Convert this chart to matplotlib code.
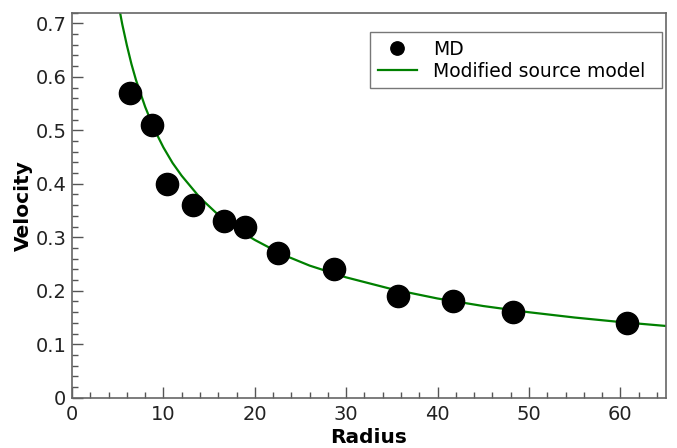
import numpy as np
import matplotlib
matplotlib.use("Agg")
import matplotlib.pyplot as plt
from matplotlib.ticker import MultipleLocator, FuncFormatter

# MD measurements
radius_md = [6.3, 8.7, 10.4, 13.2, 16.6, 18.9, 22.5, 28.7, 35.7, 41.7, 48.3, 60.7]
velocity_md = [0.57, 0.51, 0.40, 0.36, 0.33, 0.32, 0.27, 0.24, 0.19, 0.18, 0.16, 0.14]

# modified source model curve
radius_model = [5.2, 5.5, 6, 6.5, 7, 8, 9, 10, 11, 12, 14, 16, 18, 20, 23, 26,
                30, 35, 40, 45, 50, 55, 60, 65]
velocity_model = [0.725, 0.698, 0.659, 0.624, 0.594, 0.544, 0.502, 0.468, 0.439,
                  0.415, 0.374, 0.342, 0.316, 0.295, 0.268, 0.247, 0.225, 0.203,
                  0.1855, 0.1714, 0.1598, 0.1499, 0.1415, 0.1341]

fig = plt.figure(figsize=(6.77, 4.48), dpi=100)
ax = fig.add_axes([0.1064, 0.1123, 0.8774, 0.8594])

ax.plot(radius_model, velocity_model, color="green", linewidth=1.6,
        label="Modified source model", zorder=2)
ax.plot(radius_md, velocity_md, linestyle="none", marker="o", markersize=16,
        color="black", label="MD", zorder=3)

ax.set_xlim(0, 65)
ax.set_ylim(0, 0.72)
ax.xaxis.set_major_locator(MultipleLocator(10))
ax.xaxis.set_minor_locator(MultipleLocator(2))
ax.yaxis.set_major_locator(MultipleLocator(0.1))
ax.yaxis.set_minor_locator(MultipleLocator(0.02))
ax.yaxis.set_major_formatter(FuncFormatter(lambda v, p: "0" if abs(v) < 1e-9 else f"{v:.1f}"))

ax.tick_params(which="both", direction="in", top=False, right=False,
               color="#555555", labelcolor="#222222", labelsize=14, pad=4)
ax.tick_params(axis="x", pad=5)
ax.tick_params(which="major", length=8, width=1)
ax.tick_params(which="minor", length=4, width=1)
for s in ax.spines.values():
    s.set_color("#666666")
    s.set_linewidth(1.2)

ax.set_xlabel("Radius", fontsize=14.5, fontweight="bold", labelpad=3)
ax.set_ylabel("Velocity", fontsize=14.5, fontweight="bold", labelpad=2)

handles, labels = ax.get_legend_handles_labels()
leg = ax.legend(handles[::-1], labels[::-1], loc="upper left",
                bbox_to_anchor=(0.5017, 0.0, 0.491, 0.949), mode="expand",
                borderaxespad=0, fontsize=13.5, fancybox=False, framealpha=1,
                edgecolor="#777777", markerscale=0.6, borderpad=0.4,
                labelspacing=0.15, handlelength=2.1, handletextpad=0.85)
leg.get_frame().set_linewidth(1.0)

fig.savefig("out.png", dpi=100)
